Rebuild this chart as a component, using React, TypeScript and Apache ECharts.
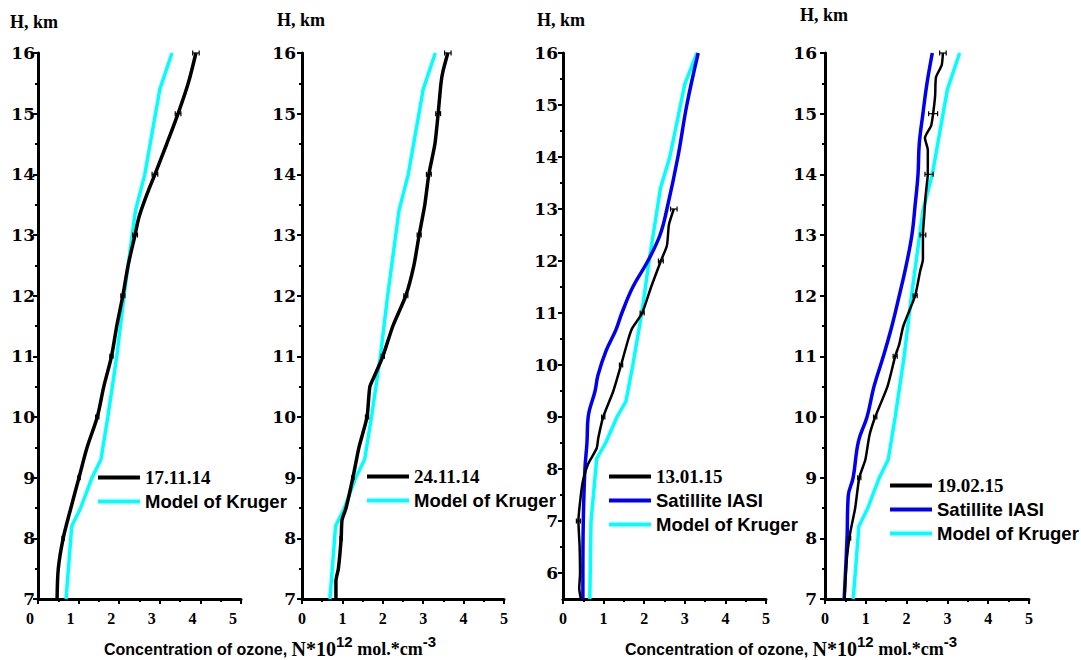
import React, { useEffect, useRef } from "react";
import * as echarts from "echarts";

// ---------- data (x = ozone concentration, y = height km) ----------
const kruger: [number, number][] = [
  [3.3, 16], [3.0, 15.4], [2.63, 14], [2.4, 13.4], [2.12, 12], [1.94, 11], [1.72, 10],
  [1.55, 9.3], [1.33, 9], [1.05, 8.5], [0.83, 8.2], [0.75, 7.5], [0.69, 7], [0.66, 5.5],
];

const obs1: [number, number][] = [
  [3.89, 16], [3.7, 15.5], [3.45, 15], [3.17, 14.5], [2.88, 14], [2.7, 13.7], [2.49, 13.3],
  [2.39, 13], [2.22, 12.5], [2.09, 12], [1.94, 11.5], [1.81, 11], [1.62, 10.5], [1.46, 10],
  [1.21, 9.5], [1.01, 9], [0.81, 8.5], [0.62, 8], [0.5, 7.5], [0.47, 7],
];

const obs2: [number, number][] = [
  [3.61, 16], [3.49, 15.7], [3.44, 15.5], [3.37, 15], [3.29, 14.5], [3.14, 14], [3.04, 13.5],
  [2.9, 13], [2.77, 12.5], [2.57, 12], [2.25, 11.5], [2.0, 11], [1.81, 10.7], [1.68, 10.5],
  [1.61, 10], [1.41, 9.5], [1.26, 9], [1.09, 8.5], [0.99, 8.3], [0.97, 8], [0.9, 7.5],
  [0.84, 7.3], [0.84, 7],
];

const obs3: [number, number][] = [
  [2.73, 13], [2.61, 12.7], [2.56, 12.3], [2.41, 12], [2.17, 11.5], [1.95, 11], [1.7, 10.7],
  [1.61, 10.5], [1.43, 10], [1.24, 9.5], [0.99, 9], [0.87, 8.6], [0.83, 8.4], [0.62, 8.1],
  [0.5, 7.8], [0.44, 7.5], [0.38, 7], [0.41, 6.5], [0.42, 6], [0.4, 5.7], [0.44, 5.5],
];

const iasi3: [number, number][] = [
  [3.33, 16], [3.05, 15], [2.83, 14], [2.56, 13], [2.39, 12.5], [2.09, 12], [1.72, 11.5],
  [1.45, 11], [1.3, 10.67], [1.06, 10.27], [0.86, 9.8], [0.79, 9.5], [0.62, 9], [0.59, 8.5],
  [0.54, 8], [0.5, 7], [0.49, 6], [0.49, 5.5],
];

const obs4: [number, number][] = [
  [2.89, 16], [2.86, 15.8], [2.72, 15.6], [2.7, 15.3], [2.65, 15], [2.6, 14.8], [2.45, 14.6],
  [2.52, 14.4], [2.52, 14.2], [2.52, 14], [2.49, 13.8], [2.46, 13.6], [2.43, 13.3], [2.4, 13],
  [2.4, 12.6], [2.33, 12.4], [2.21, 12], [1.92, 11.5], [1.82, 11.2], [1.72, 11], [1.53, 10.5],
  [1.23, 10], [1.09, 9.7], [0.99, 9.3], [0.84, 9], [0.74, 8.5], [0.62, 8.1], [0.54, 7.7],
  [0.5, 7.3], [0.48, 7],
];

const iasi4: [number, number][] = [
  [2.63, 16], [2.5, 15.5], [2.4, 15], [2.31, 14.5], [2.28, 14], [2.21, 13.5], [2.13, 13],
  [1.99, 12.5], [1.82, 12], [1.64, 11.5], [1.43, 11], [1.2, 10.5], [1.03, 10], [0.82, 9.6],
  [0.69, 9], [0.57, 8.7], [0.54, 8], [0.47, 7],
];

// error bars: [x, height, half-width]
const err1 = [[3.89, 16, 0.08], [3.45, 15, 0.07], [2.88, 14, 0.07], [2.39, 13, 0.06], [2.09, 12, 0.05], [1.81, 11, 0.04], [1.46, 10, 0.04], [1.01, 9, 0.03], [0.62, 8, 0.03]];
const err2 = [[3.61, 16, 0.08], [3.37, 15, 0.06], [3.14, 14, 0.06], [2.9, 13, 0.05], [2.57, 12, 0.05], [2.0, 11, 0.04], [1.61, 10, 0.04], [1.26, 9, 0.03], [0.97, 8, 0.03]];
const err3 = [[2.73, 13, 0.08], [2.41, 12, 0.06], [1.95, 11, 0.05], [1.43, 10, 0.04], [0.99, 9, 0.04], [0.38, 7, 0.05]];
const err4 = [[2.89, 16, 0.08], [2.65, 15, 0.11], [2.55, 14, 0.1], [2.4, 13, 0.07], [2.21, 12, 0.05], [1.72, 11, 0.05], [1.23, 10, 0.04], [0.84, 9, 0.04], [0.6, 8, 0.03]];

const dates = ["17.11.14", "24.11.14", "13.01.15", "19.02.15"];
const KRUGER = "Model of Kruger";
const IASI = "Satillite IASI";
const yTitle = "H, km";
const p3Major = [6, 7, 8, 9, 10, 11, 12, 13, 14, 15, 16];
const p3Minor = [6.5, 7.5, 8.5, 9.5, 10.5, 11.5, 12.5, 13.5, 14.5, 15.5];

const SERIF = "Liberation Serif";
const WIDE_SERIF = "DejaVu Serif";
const SANS = "Liberation Sans";

const grids = [
  { left: 38, top: 53, width: 203, height: 546 },
  { left: 302, top: 53, width: 202, height: 546 },
  { left: 563, top: 53, width: 203, height: 546 },
  { left: 825, top: 53, width: 204, height: 546 },
];
const labelMargins = [3, 6, 5, 8];

function errRender(params: any, api: any) {
  const x = api.value(0), y = api.value(1), e = api.value(2);
  const a = api.coord([x - e, y]);
  const b = api.coord([x + e, y]);
  const st = { stroke: "#000", lineWidth: 1.2 };
  return {
    type: "group",
    children: [
      { type: "line", shape: { x1: a[0], y1: a[1], x2: b[0], y2: b[1] }, style: st },
      { type: "line", shape: { x1: a[0], y1: a[1] - 2.5, x2: a[0], y2: a[1] + 2.5 }, style: st },
      { type: "line", shape: { x1: b[0], y1: b[1] - 2.5, x2: b[0], y2: b[1] + 2.5 }, style: st },
    ],
  };
}

export default function App() {
  const ref = useRef<HTMLDivElement>(null);
  useEffect(() => {
    if (!ref.current) return;
    const chart = echarts.init(ref.current, undefined, { renderer: "svg" });

    const xAxes = grids.map((_, i) => ({
      type: "value",
      gridIndex: i,
      min: 0,
      max: 5,
      interval: 1,
      axisLine: { show: true, lineStyle: { color: "#000", width: 3 } },
      axisTick: { show: true, inside: false, length: 5, lineStyle: { color: "#000", width: 2 } },
      minorTick: { show: true, splitNumber: 2, length: 3, lineStyle: { color: "#000", width: 2 } },
      splitLine: { show: false },
      axisLabel: {
        color: "#000",
        fontFamily: SERIF,
        fontWeight: "bold",
        fontSize: 16,
        lineHeight: 16,
        margin: 11,
        padding: i === 0 ? [0, 16, 0, 0] : 0,
      },
    }));

    const yCommon = (i: number) => ({
      type: "value",
      gridIndex: i,
      max: 16,
      axisLine: { show: true, onZero: false, lineStyle: { color: "#000", width: 3 } },
      axisTick: { show: true, inside: false, length: 5, lineStyle: { color: "#000", width: 2 } },
      splitLine: { show: false },
      axisLabel: {
        color: "#000",
        fontFamily: WIDE_SERIF,
        fontWeight: "bold",
        fontSize: 17,
        lineHeight: 17,
        margin: labelMargins[i],
      },
    });

    const yAxes: any[] = [0, 1, 2, 3].map((i) => {
      const base: any = yCommon(i);
      if (i === 2) {
        base.min = 5.5;
        base.axisTick = { ...base.axisTick, customValues: p3Major };
        base.axisLabel = { ...base.axisLabel, customValues: p3Major };
      } else {
        base.min = 7;
        base.interval = 1;
        base.minorTick = { show: true, splitNumber: 2, length: 3, lineStyle: { color: "#000", width: 2 } };
      }
      return base;
    });
    yAxes.push({
      type: "value",
      gridIndex: 2,
      min: 5.5,
      max: 16,
      position: "left",
      axisLine: { show: false },
      axisLabel: { show: false },
      splitLine: { show: false },
      axisTick: { show: true, inside: false, length: 3, customValues: p3Minor, lineStyle: { color: "#000", width: 2 } },
    });

    const line = (name: string, data: [number, number][], i: number, color: string, width: number, smooth: number | boolean = false) => ({
      type: "line",
      name,
      xAxisIndex: i,
      yAxisIndex: i,
      data,
      symbol: "none",
      smooth,
      clip: true,
      color,
      lineStyle: { color, width },
      z: 3,
    });

    const errSeries = (data: number[][], i: number) => ({
      type: "custom",
      name: "err" + i,
      coordinateSystem: "cartesian2d",
      xAxisIndex: i,
      yAxisIndex: i,
      data,
      encode: { x: 0, y: 1 },
      renderItem: errRender,
      z: 4,
    });

    const k7 = kruger.filter((p) => p[1] >= 7);
    const CYAN = "#00ffff";
    const BLUE = "#0000ee";
    const series: any[] = [
      line(KRUGER, k7, 0, CYAN, 3.5),
      line(dates[0], obs1, 0, "#000", 3.5, 0.3),
      errSeries(err1, 0),
      line(KRUGER, k7, 1, CYAN, 3.5),
      line(dates[1], obs2, 1, "#000", 3.5, 0.2),
      errSeries(err2, 1),
      line(KRUGER, kruger, 2, CYAN, 3.5),
      line(IASI, iasi3, 2, BLUE, 3.5, 0.4),
      line(dates[2], obs3, 2, "#000", 2.5, 0.2),
      errSeries(err3, 2),
      line(KRUGER, k7, 3, CYAN, 3.5),
      line(IASI, iasi4, 3, BLUE, 3.5, 0.4),
      line(dates[3], obs4, 3, "#000", 2.5, 0.2),
      errSeries(err4, 3),
    ];

    const legendFmt = (name: string) => (dates.includes(name) ? `{d|${name}}` : `{s|${name}}`);
    const legendBase = {
      orient: "vertical",
      icon: "rect",
      itemWidth: 42,
      itemHeight: 4,
      itemGap: 5,
      padding: 0,
      selectedMode: false,
      formatter: legendFmt,
      textStyle: {
        color: "#000",
        rich: {
          d: { fontFamily: SERIF, fontWeight: "bold", fontSize: 19, lineHeight: 18, color: "#000" },
          s: { fontFamily: SANS, fontWeight: "bold", fontSize: 18.5, lineHeight: 18, color: "#000" },
        },
      },
    };
    const legends = [
      { ...legendBase, left: 98, top: 468, data: [dates[0], KRUGER] },
      { ...legendBase, left: 367, top: 467, data: [dates[1], KRUGER] },
      { ...legendBase, left: 609, top: 467, data: [dates[2], IASI, KRUGER] },
      { ...legendBase, left: 890, top: 476, data: [dates[3], IASI, KRUGER] },
    ];

    const hTitles = [
      { x: 10, y: 22 },
      { x: 277, y: 20 },
      { x: 537, y: 20 },
      { x: 800, y: 15 },
    ].map((p) => ({
      type: "text",
      x: p.x,
      y: p.y,
      style: {
        text: yTitle,
        fontFamily: SERIF,
        fontWeight: "bold",
        fontSize: 18,
        fill: "#000",
        verticalAlign: "middle",
        align: "left",
      },
    }));

    const xTitleRich = {
      a: { fontFamily: SANS, fontWeight: "bold", fontSize: 16, lineHeight: 30, fill: "#000" },
      b: { fontFamily: SERIF, fontWeight: "bold", fontSize: 20, lineHeight: 30, fill: "#000" },
      c: { fontFamily: SERIF, fontWeight: "bold", fontSize: 18, lineHeight: 30, fill: "#000" },
      s: { fontFamily: SANS, fontWeight: "bold", fontSize: 15, lineHeight: 10, verticalAlign: "top", fill: "#000" },
    };
    const xTitleText = "{a|Concentration of ozone, }{b|N*10}{s|12}{c| mol.*cm}{s|-3}";
    const xTitles = [270, 791].map((cx) => ({
      type: "text",
      x: cx,
      y: 649,
      style: {
        text: xTitleText,
        rich: xTitleRich,
        align: "center",
        verticalAlign: "middle",
        fill: "#000",
      },
    }));

    chart.setOption({
      animation: false,
      backgroundColor: "#fff",
      grid: grids,
      xAxis: xAxes,
      yAxis: yAxes,
      legend: legends,
      series,
      graphic: [...hTitles, ...xTitles],
    });
    return () => chart.dispose();
  }, []);
  return <div ref={ref} style={{ position: "fixed", left: 0, top: 0, width: 1081, height: 660 }} />;
}
